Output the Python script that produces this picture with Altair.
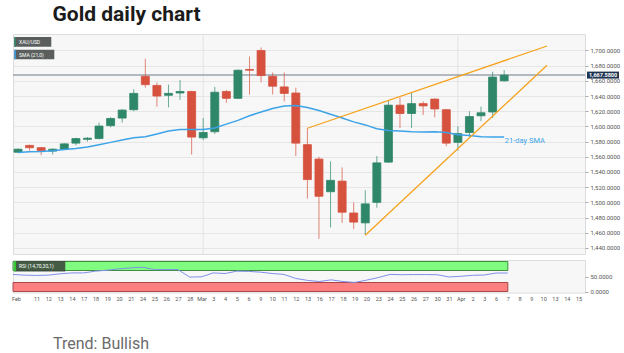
import altair as alt
import pandas as pd
import numpy as np

# ---------------- data ----------------
opens  = [1566, 1575, 1572, 1567.5, 1570, 1578, 1583, 1584, 1601, 1611, 1622, 1666, 1654, 1641, 1644,
          1646, 1585, 1593, 1646, 1637, 1675, 1700, 1666, 1652, 1644, 1576, 1557, 1514, 1528, 1486,
          1473, 1500, 1553, 1628, 1617, 1630, 1636, 1622, 1579, 1592, 1614, 1619, 1660]
highs  = [1571, 1576, 1573, 1571, 1578, 1585, 1586, 1605, 1612, 1623, 1649, 1689, 1658, 1655, 1661,
          1647, 1611, 1652, 1648, 1675, 1692, 1704, 1671, 1671, 1651, 1598, 1560, 1554, 1546, 1500,
          1516, 1561, 1634, 1638, 1644, 1633, 1637, 1623, 1600, 1620, 1626, 1672, 1674]
lows   = [1565, 1568, 1562, 1563, 1569, 1575, 1580, 1583, 1599, 1605, 1620, 1651, 1626, 1625, 1635,
          1563, 1582, 1590, 1631, 1636, 1642, 1658, 1642, 1633, 1561, 1505, 1452, 1467, 1473, 1465,
          1457, 1493, 1552, 1598, 1598, 1615, 1612, 1574, 1568, 1586, 1607, 1611, 1659]
closes = [1570, 1572, 1568, 1570, 1577, 1584, 1584.5, 1600.5, 1610.5, 1621.5, 1643.5, 1655, 1640, 1643.5, 1646,
          1586, 1592, 1645, 1637, 1674, 1674, 1667, 1653, 1643.5, 1578, 1530, 1508, 1529, 1487, 1474,
          1498, 1552, 1628, 1617, 1630, 1627, 1623, 1578, 1590.5, 1613, 1618, 1665, 1667.58]
sma21  = [1565.5, 1566.5, 1567, 1568, 1569.5, 1571, 1573, 1576, 1579, 1582, 1585, 1586.5, 1590, 1594, 1596,
          1596, 1596, 1598, 1603, 1608, 1614, 1619, 1623.5, 1627, 1627.5, 1625, 1621, 1616, 1611, 1606,
          1602, 1597, 1594.5, 1594, 1593, 1592.5, 1593, 1592, 1589, 1588, 1586.5, 1586, 1586]
rsi14  = [56.7, 54.6, 53.5, 54.6, 59, 62, 62, 67.8, 71, 75.4, 78.7, 81, 73, 73, 73,
          48, 49, 62, 60, 67.8, 67, 64.5, 60, 57, 43.5, 37, 33.4, 38.8, 33.4, 30.2,
          37.7, 46.4, 57, 56, 56.5, 56.5, 56, 48.5, 50.7, 54, 55, 61.6, 61.6]

# axis labels (trading-day index -> label)
tick_pos = [0.25] + list(range(2, 49))
tick_lab = ["Feb", "11", "12", "13", "14", "17", "18", "19", "20", "21", "24", "25", "26", "27", "28",
            "Mar", "3", "4", "5", "6", "9", "10", "11", "12", "13", "16", "17", "18", "19", "20",
            "23", "24", "25", "26", "27", "30", "31", "Apr", "2", "3", "6", "7", "8", "9", "10",
            "13", "14", "15"]

month_starts = [16, 38]
last_price = [1667.58]
wedge_line = ["upper", "upper", "lower", "lower"]
wedge_i = [25, 45.7, 30, 45.7]
wedge_p = [1597.6, 1705.9, 1456.7, 1680.5]
price_ticks = list(range(1440, 1701, 20))
rsi_zone = ["ob", "os"]
rsi_lo = [70, 0]
rsi_hi = [100, 30]
rsi_band_end = [42, 42]

# ---------------- styles ----------------
GREEN = "#2f8769"
RED = "#d6523f"
FONT = "Roboto"
W, H_MAIN, H_RSI = 572, 220, 32.5

df = pd.DataFrame({"i": list(range(len(opens))), "open": opens, "high": highs, "low": lows,
                   "close": closes, "sma": sma21, "rsi": rsi14})
df["dir"] = np.where(df["close"] >= df["open"], "up", "down")

xscale = alt.Scale(domain=[0, 48.55], nice=False, zero=False)
yscale = alt.Scale(domain=[1432, 1721.7], nice=False, zero=False)
X = alt.X("i:Q", scale=xscale, axis=None)

yaxis = alt.Axis(orient="right", values=price_ticks, format=",.4f", grid=True, gridColor="#e6e6e6",
                 gridWidth=1, domain=False, tickSize=3, tickColor="#aaa", labelFontSize=6,
                 labelColor="#555", labelFont=FONT, labelPadding=2, title=None)

cscale = alt.Scale(domain=["up", "down"], range=[GREEN, RED])

base = alt.Chart(df)

month_rules = alt.Chart(pd.DataFrame({"i": month_starts})).mark_rule(
    color="#e3e3e3", strokeWidth=1).encode(x=X)

grid_holder = base.mark_point(opacity=0).encode(
    x=X, y=alt.Y("close:Q", scale=yscale, axis=yaxis))

price_rule = alt.Chart(pd.DataFrame({"p": last_price})).mark_rule(
    color="#9aa3ad", strokeWidth=1.5).encode(y=alt.Y("p:Q", scale=yscale, axis=yaxis))

wicks = base.mark_rule(strokeWidth=1, opacity=0.7, clip=True).encode(
    x=X, y=alt.Y("low:Q", scale=yscale, axis=yaxis), y2="high:Q",
    color=alt.Color("dir:N", scale=cscale, legend=None))

bodies = base.mark_bar(size=8, strokeWidth=0.8, clip=True).encode(
    x=X, y=alt.Y("open:Q", scale=yscale, axis=yaxis), y2="close:Q",
    color=alt.Color("dir:N", scale=cscale, legend=None),
    stroke=alt.Stroke("dir:N", scale=cscale, legend=None))

sma_line = base.mark_line(color="#3ca3e8", strokeWidth=1.5, clip=True).encode(
    x=X, y=alt.Y("sma:Q", scale=yscale, axis=yaxis))

sma_label = alt.Chart(pd.DataFrame({"i": [42.05], "p": [1581], "t": ["21-day SMA"]})).mark_text(
    align="left", baseline="middle", fontSize=7.5, font=FONT, color="#3ca3e8").encode(
    x=X, y=alt.Y("p:Q", scale=yscale, axis=yaxis), text="t:N")

wedges = alt.Chart(pd.DataFrame({"line": wedge_line, "i": wedge_i, "p": wedge_p})).mark_line(
    color="#f5a21c", strokeWidth=1.3).encode(
    x=X, y=alt.Y("p:Q", scale=yscale, axis=yaxis), detail="line:N")

price_tag = alt.Chart(pd.DataFrame({"p": last_price})).mark_tick(
    orient="horizontal", size=32, thickness=7, color="#1f3552", opacity=1).encode(
    x=alt.value(590), y=alt.Y("p:Q", scale=yscale, axis=yaxis))
price_txt = alt.Chart(pd.DataFrame({"p": last_price})).mark_text(
    color="white", fontSize=5.5, font=FONT, fontWeight="bold").encode(
    x=alt.value(590), y=alt.Y("p:Q", scale=yscale, axis=yaxis),
    text=alt.Text("p:Q", format=",.4f"))


def tag(label, y0, y1, w, strip):
    d = alt.Chart(pd.DataFrame({"t": [label]}))
    box = d.mark_rect(color="#5a5f5e").encode(
        x=alt.value(1.3), x2=alt.value(1.3 + w), y=alt.value(y0), y2=alt.value(y1))
    st = d.mark_rect(color=strip).encode(
        x=alt.value(1.3), x2=alt.value(2.8), y=alt.value(y0), y2=alt.value(y1))
    tx = d.mark_text(align="left", baseline="middle", fontSize=5, font=FONT, color="white").encode(
        x=alt.value(6), y=alt.value((y0 + y1) / 2), text="t:N")
    return box + st + tx


main = alt.layer(
    month_rules, grid_holder, price_rule, wicks, bodies, sma_line, wedges, sma_label,
    price_tag, price_txt,
    tag("XAU/USD", 3, 12.7, 37, GREEN), tag("SMA (21,0)", 15.7, 25.3, 40, "#3ca3e8"),
).properties(width=W, height=H_MAIN)

# ---------------- RSI panel ----------------
rscale = alt.Scale(domain=[-3.3, 105], nice=False, zero=False)
label_map = "{" + ",".join(f"'{p}':'{l}'" for p, l in zip(tick_pos, tick_lab)) + "}[datum.value]"
xaxis = alt.Axis(orient="bottom", values=tick_pos, labelExpr=label_map, grid=False, domain=False,
                 ticks=False, labelPadding=4, labelFontSize=5.5, labelColor="#555", labelFont=FONT,
                 labelOverlap=False, labelFlush=False, labelBound=False, title=None)
XR = alt.X("i:Q", scale=xscale, axis=xaxis)
raxis = alt.Axis(orient="right", values=[0, 50], format=".4f", grid=False, domain=False, tickSize=3,
                 tickColor="#aaa", labelFontSize=6, labelColor="#555", labelFont=FONT,
                 labelPadding=2, title=None)

bands_df = pd.DataFrame({"zone": rsi_zone, "lo": rsi_lo, "hi": rsi_hi,
                         "x0": [0, 0], "x1": rsi_band_end})


def band(zone, fill, edge):
    return alt.Chart(bands_df).transform_filter(alt.datum.zone == zone).mark_rect(
        fill=fill, stroke=edge, strokeWidth=1).encode(
        x=alt.X("x0:Q", scale=xscale, axis=xaxis), x2="x1:Q",
        y=alt.Y("lo:Q", scale=rscale, axis=raxis), y2="hi:Q")


rsi_line = base.mark_line(color="#7f8fe8", strokeWidth=1).encode(
    x=XR, y=alt.Y("rsi:Q", scale=rscale, axis=raxis))

rd = alt.Chart(pd.DataFrame({"t": ["RSI (14,70,30,1)"]}))
rsi_box = rd.mark_rect(color="#3c4a3c", opacity=0.9).encode(
    x=alt.value(1.3), x2=alt.value(52.3), y=alt.value(1), y2=alt.value(11.5))
rsi_strip = rd.mark_rect(color="#33dd33").encode(
    x=alt.value(1.3), x2=alt.value(2.8), y=alt.value(1), y2=alt.value(11.5))
rsi_txt = rd.mark_text(align="left", baseline="middle", fontSize=5, font=FONT, color="white").encode(
    x=alt.value(6), y=alt.value(6.3), text="t:N")

rsi_chart = alt.layer(
    band("ob", "#80fd80", "#3f8f3f"), band("os", "#fd7f7f", "#a84848"),
    rsi_line, rsi_box, rsi_strip, rsi_txt).properties(
    width=W, height=H_RSI,
    title=alt.TitleParams("Trend: Bullish", orient="bottom", anchor="start", dx=42, offset=34,
                          fontSize=16, font=FONT, fontWeight="normal", color="#6b6b6b"))

chart = alt.vconcat(main, rsi_chart, spacing=4).properties(
    title=alt.TitleParams("Gold daily chart", anchor="start", dx=42, fontSize=21, font=FONT,
                          fontWeight="bold", color="#1b1b1b", offset=8),
    padding={"left": 10, "top": 4, "right": 0, "bottom": 0},
    background="white",
).resolve_scale(color="independent", stroke="independent").configure_view(
    fill="#f7f7f7", stroke="#dcdcdc")

chart.save("out.html", embed_options={"renderer": "svg", "actions": False})
